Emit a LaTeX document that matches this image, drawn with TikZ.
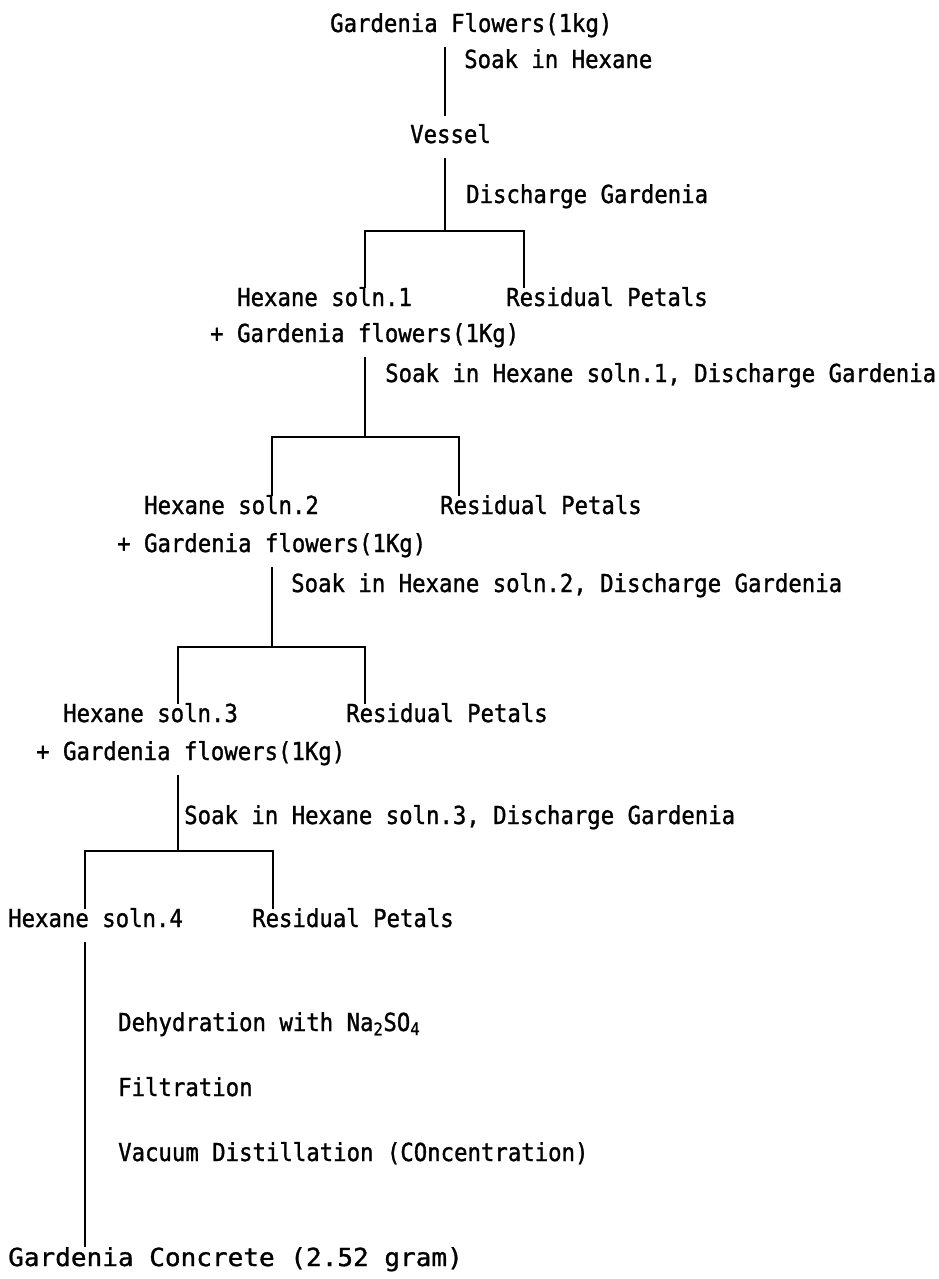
\documentclass[tikz,border=0pt]{standalone}
\usepackage{fontspec}
\newfontfamily\flowfont[FakeStretch=0.9,FakeBold=1.2]{DejaVu Sans Mono}
\newfontfamily\widefont[FakeStretch=1.05,FakeBold=1.2]{DejaVu Sans Mono}
\tikzset{
  lbl/.style={anchor=west,inner xsep=0pt,inner ysep=10pt,text height=17pt,text depth=5pt,
    font=\flowfont\fontsize{24.8pt}{28pt}\selectfont},
  flow/.style={line width=1.6pt},
  drop/.style={flow,shorten <=-9pt,shorten >=-9pt}
}
\begin{document}
\begin{tikzpicture}[x=1pt,y=-1pt]
\useasboundingbox[fill=white](0,0)rectangle(938,1279);
%soaking
\node[lbl](flw)at(330,26){Gardenia Flowers(1kg)};
\node[lbl](soak0)at(464,62){Soak in Hexane};
\node[lbl](ves)at(410,137){Vessel};
\node[lbl](dis0)at(466,197){Discharge Gardenia};
\coordinate(j1)at(445,231);
\draw[flow](flw.south -| j1)--(ves.north -| j1);
\draw[flow](ves.south -| j1)--(j1);
%first batch
\coordinate(l1)at(365,231);
\coordinate(r1)at(524,231);
\node[lbl](hx1)at(237,300){Hexane soln.1};
\node[lbl](rp1)at(506,300){Residual Petals};
\node[lbl](gf1)at(210,336){+ Gardenia flowers(1Kg)};
\draw[drop](hx1.north -| l1)|-(j1)-|(rp1.north -| r1);
\node[lbl](soak1)at(385,376){Soak in Hexane soln.1, Discharge Gardenia};
\coordinate(j2)at(365,437);
\draw[flow](gf1.south -| j2)--(j2);
%second batch
\coordinate(l2)at(272,437);
\coordinate(r2)at(459,437);
\node[lbl](hx2)at(144,508){Hexane soln.2};
\node[lbl](rp2)at(440,508){Residual Petals};
\node[lbl](gf2)at(117,546){+ Gardenia flowers(1Kg)};
\draw[drop](hx2.north -| l2)|-(j2)-|(rp2.north -| r2);
\node[lbl](soak2)at(291,586){Soak in Hexane soln.2, Discharge Gardenia};
\coordinate(j3)at(272,647);
\draw[flow](gf2.south -| j3)--(j3);
%third batch
\coordinate(l3)at(178,647);
\coordinate(r3)at(365,647);
\node[lbl](hx3)at(63,716){Hexane soln.3};
\node[lbl](rp3)at(346,716){Residual Petals};
\node[lbl](gf3)at(36,754){+ Gardenia flowers(1Kg)};
\draw[drop](hx3.north -| l3)|-(j3)-|(rp3.north -| r3);
\node[lbl](soak3)at(184,818){Soak in Hexane soln.3, Discharge Gardenia};
\coordinate(j4)at(178,851);
\draw[flow](gf3.south -| j4)--(j4);
%last extract
\coordinate(l4)at(85,851);
\coordinate(r4)at(273,851);
\node[lbl](hx4)at(8,921){Hexane soln.4};
\node[lbl](rp4)at(252,921){Residual Petals};
\draw[drop](hx4.north -| l4)|-(j4)-|(rp4.north -| r4);
%work-up
\node[lbl](dehy)at(118,1025){Dehydration with Na\textsubscript{2}SO\textsubscript{4}};
\node[lbl](filt)at(118,1090){Filtration};
\node[lbl](vac)at(118,1155){Vacuum Distillation (COncentration)};
\node[lbl,font=\widefont\fontsize{24.8pt}{28pt}\selectfont](conc)at(8,1260){Gardenia Concrete (2.52 gram)};
\draw[flow,shorten >=-8pt](hx4.south -| l4)--(conc.north -| l4);
\end{tikzpicture}
\end{document}
